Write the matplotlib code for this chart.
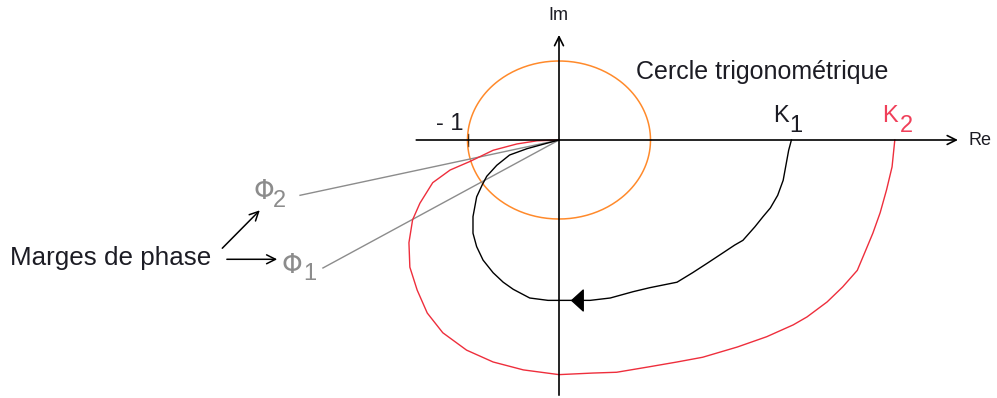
import numpy as np
import matplotlib
matplotlib.use('Agg')
import matplotlib.pyplot as plt

# Nyquist sketch, unit = radius of the trigonometric circle
K1_re = [2.54, 2.51, 2.48, 2.45, 2.39, 2.31, 2.23, 2.14, 2.01, 1.92, 1.79, 1.62,
         1.46, 1.29, 0.99, 0.81, 0.56, 0.34, 0.0, -0.12, -0.32, -0.50, -0.61,
         -0.72, -0.83, -0.90, -0.94, -0.94, -0.90, -0.84, -0.79, -0.68, -0.54,
         -0.35, -0.13, 0.0]
K1_im = [0.0, -0.13, -0.32, -0.51, -0.70, -0.86, -0.97, -1.10, -1.27, -1.33,
         -1.43, -1.56, -1.68, -1.80, -1.87, -1.92, -2.00, -2.03, -2.03, -2.03,
         -2.00, -1.89, -1.80, -1.68, -1.52, -1.35, -1.18, -0.97, -0.72, -0.57,
         -0.46, -0.32, -0.19, -0.11, -0.04, 0.0]

K2_re = [3.67, 3.64, 3.58, 3.51, 3.43, 3.34, 3.26, 3.10, 2.93, 2.71, 2.56, 2.27,
         1.95, 1.57, 1.29, 0.99, 0.63, 0.37, 0.0, -0.39, -0.72, -1.01, -1.27,
         -1.44, -1.55, -1.63, -1.64, -1.60, -1.52, -1.38, -1.19, -0.97, -0.72,
         -0.46, -0.24, 0.0]
K2_im = [0.0, -0.34, -0.63, -0.92, -1.18, -1.43, -1.65, -1.86, -2.05, -2.24,
         -2.34, -2.49, -2.62, -2.75, -2.81, -2.87, -2.94, -2.95, -2.97, -2.91,
         -2.81, -2.66, -2.44, -2.19, -1.90, -1.61, -1.30, -1.01, -0.80, -0.54,
         -0.38, -0.27, -0.13, -0.05, -0.01, 0.0]

# ends of the phase-margin lines (drawn from the origin)
phi2_end = (-2.83, -0.70)
phi1_end = (-2.58, -1.62)
arrow_pos = (0.20, -2.03)

SX, SY = 91.5, 79.0   # pixels per unit
OX, OY = 559, 140     # origin in pixels

plt.rcParams['font.family'] = ['Liberation Sans', 'DejaVu Sans']

fig = plt.figure(figsize=(9.97, 3.98), dpi=100)
ax = fig.add_axes([0, 0, 1, 1])
ax.set_xlim(-OX / SX, (997 - OX) / SX)
ax.set_ylim(-(398 - OY) / SY, OY / SY)
ax.axis('off')

# axes
ax.annotate('', xy=(4.36, 0), xytext=(-1.56, 0),
            arrowprops=dict(arrowstyle='->', lw=1.2, color='black', mutation_scale=16,
                            shrinkA=0, shrinkB=0))
ax.annotate('', xy=(0, 1.33), xytext=(0, -3.23),
            arrowprops=dict(arrowstyle='->', lw=1.2, color='black', mutation_scale=16,
                            shrinkA=0, shrinkB=0))
ax.plot([-1, -1], [0.08, -0.07], color='black', lw=1.0)

# unit circle
t = np.linspace(0, 2 * np.pi, 300)
ax.plot(np.cos(t), np.sin(t), color='#ff8a2b', lw=1.1)

# phase margin lines
gray = '#8c8c8c'
ax.plot([0, phi2_end[0]], [0, phi2_end[1]], color=gray, lw=1.0)
ax.plot([0, phi1_end[0]], [0, phi1_end[1]], color=gray, lw=1.0)

# Nyquist curves
ax.plot(K2_re, K2_im, color='#ee2e3c', lw=1.0, solid_joinstyle='round')
ax.plot(K1_re, K1_im, color='black', lw=1.0, solid_joinstyle='round')
tri = [(-0.55, 0), (0.55, 1), (0.55, -1), (-0.55, 0)]
ax.plot([arrow_pos[0]], [arrow_pos[1]], marker=tri, ms=15, color='black', ls='none')

# texts
txt = '#1c1c24'
ax.text(-0.01, 1.58, 'Im', fontsize=13, ha='center', va='center', color=txt)
ax.text(4.47, -0.01, 'Re', fontsize=13, ha='left', va='center', color=txt)
ax.text(-1.34, 0.127, '- 1', fontsize=17, ha='left', va='baseline', color=txt)
ax.text(0.84, 0.86, 'Cercle trigonométrique', fontsize=18, ha='left', va='center', color=txt)

ax.text(2.34, 0.23, 'K', fontsize=17, ha='left', va='baseline', color=txt)
ax.text(2.52, 0.10, '1', fontsize=17, ha='left', va='baseline', color=txt)
red_txt = '#f0405a'
ax.text(3.53, 0.23, 'K', fontsize=17, ha='left', va='baseline', color=red_txt)
ax.text(3.73, 0.10, '2', fontsize=17, ha='left', va='baseline', color=red_txt)

ax.text(-3.34, -0.75, 'Φ', fontsize=19, ha='left', va='baseline', color=gray,
        family='DejaVu Sans')
ax.text(-3.13, -0.85, '2', fontsize=17, ha='left', va='baseline', color=gray)
ax.text(-3.03, -1.68, 'Φ', fontsize=19, ha='left', va='baseline', color=gray,
        family='DejaVu Sans')
ax.text(-2.79, -1.77, '1', fontsize=17, ha='left', va='baseline', color=gray)

ax.text(-6.0, -1.58, 'Marges de phase', fontsize=18.7, ha='left', va='baseline', color=txt)
ax.annotate('', xy=(-3.27, -0.89), xytext=(-3.68, -1.37),
            arrowprops=dict(arrowstyle='->', lw=1.1, color='black', mutation_scale=16,
                            shrinkA=0, shrinkB=0))
ax.annotate('', xy=(-3.08, -1.51), xytext=(-3.63, -1.51),
            arrowprops=dict(arrowstyle='->', lw=1.1, color='black', mutation_scale=16,
                            shrinkA=0, shrinkB=0))

fig.savefig('out.png', dpi=100)
plt.close()
